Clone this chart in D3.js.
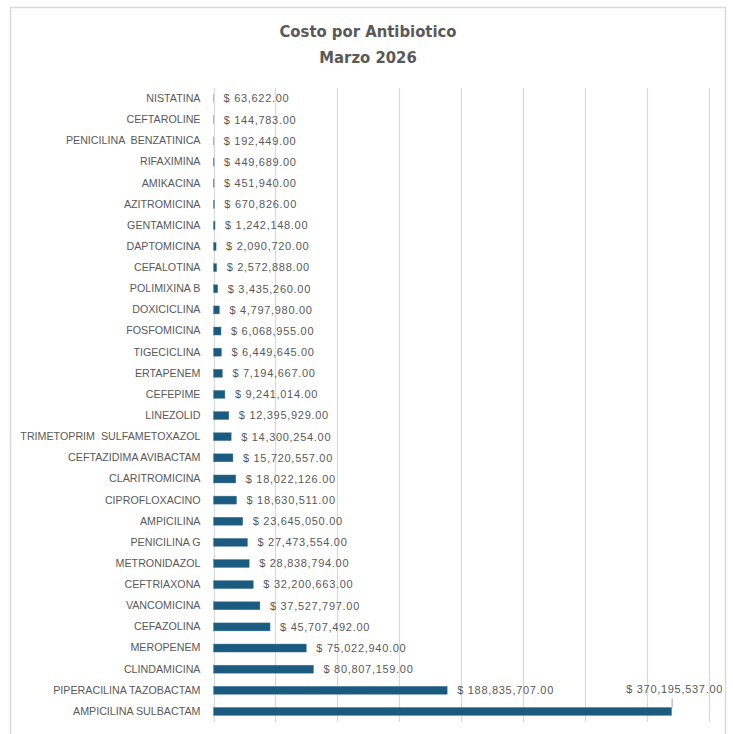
<!DOCTYPE html>
<html>
<head>
<meta charset="utf-8">
<script src="https://cdn.jsdelivr.net/npm/d3@7/dist/d3.min.js"></script>
<style>
  html, body { margin: 0; padding: 0; background: #ffffff; }
  svg { display: block; }
</style>
</head>
<body>
<svg id="chart" width="733" height="734"></svg>
<script>
// Antibiotic names, ordered from lowest to highest cost (top to bottom)
const antibiotics = [
  "NISTATINA", "CEFTAROLINE", "PENICILINA  BENZATINICA", "RIFAXIMINA", "AMIKACINA",
  "AZITROMICINA", "GENTAMICINA", "DAPTOMICINA", "CEFALOTINA", "POLIMIXINA B",
  "DOXICICLINA", "FOSFOMICINA", "TIGECICLINA", "ERTAPENEM", "CEFEPIME",
  "LINEZOLID", "TRIMETOPRIM  SULFAMETOXAZOL", "CEFTAZIDIMA AVIBACTAM", "CLARITROMICINA", "CIPROFLOXACINO",
  "AMPICILINA", "PENICILINA G", "METRONIDAZOL", "CEFTRIAXONA", "VANCOMICINA",
  "CEFAZOLINA", "MEROPENEM", "CLINDAMICINA", "PIPERACILINA TAZOBACTAM", "AMPICILINA SULBACTAM"
];

// Monthly cost per antibiotic (MXN)
const costs = [
  63622, 144783, 192449, 449689, 451940,
  670826, 1242148, 2090720, 2572888, 3435260,
  4797980, 6068955, 6449645, 7194667, 9241014,
  12395929, 14300254, 15720557, 18022126, 18630511,
  23645050, 27473554, 28838794, 32200663, 37527797,
  45707492, 75022940, 80807159, 188835707, 370195537
];

// Value axis gridline positions
const gridTicks = [0, 50e6, 100e6, 150e6, 200e6, 250e6, 300e6, 350e6, 400e6];

const titleLines = ["Costo por Antibiotico", "Marzo 2026"];

const data = antibiotics.map((name, i) => ({ name, value: costs[i] }));

const svg = d3.select("#chart");
const textColor = "#595959";
const barColor = "#1b5b7f";

// Outer chart frame
svg.append("rect")
  .attr("x", 10.5).attr("y", 7.5)
  .attr("width", 715).attr("height", 740)
  .attr("fill", "#ffffff")
  .attr("stroke", "#d9d9d9")
  .attr("stroke-width", 1.5);

// Title
svg.append("g")
  .selectAll("text")
  .data(titleLines)
  .join("text")
  .attr("x", 368)
  .attr("y", (d, i) => 37 + i * 26)
  .attr("text-anchor", "middle")
  .attr("font-family", "'DejaVu Sans Condensed', 'Liberation Sans Narrow', sans-serif")
  .attr("font-weight", "bold")
  .attr("font-size", 16.5)
  .attr("fill", textColor)
  .text(d => d);

const x = d3.scaleLinear().domain([0, 400e6]).range([213.5, 708.5]);
const y = d3.scaleBand().domain(antibiotics).range([88, 722]).paddingInner(0.62).paddingOuter(0.31);

// Vertical gridlines
svg.append("g")
  .selectAll("line")
  .data(gridTicks)
  .join("line")
  .attr("x1", d => Math.round(x(d)) + 0.5)
  .attr("x2", d => Math.round(x(d)) + 0.5)
  .attr("y1", 88).attr("y2", 722)
  .attr("stroke", "#d9d9d9")
  .attr("stroke-width", 1.2);

// Category axis (labels only)
const yAxis = svg.append("g")
  .attr("transform", `translate(${x(0)},0)`)
  .call(d3.axisLeft(y).tickSize(0).tickPadding(13));
yAxis.select(".domain").remove();
yAxis.selectAll("text")
  .attr("font-family", "'Liberation Sans', Arial, sans-serif")
  .attr("font-size", 10.7)
  .attr("fill", textColor)
  .style("white-space", "pre");

// Bars
svg.append("g")
  .selectAll("rect")
  .data(data)
  .join("rect")
  .attr("x", x(0))
  .attr("y", d => y(d.name))
  .attr("width", d => Math.max(0, x(d.value) - x(0)))
  .attr("height", y.bandwidth())
  .attr("fill", barColor)
  .attr("stroke", "#4f86a6")
  .attr("stroke-width", 0.4);

const fmt = v => "$ " + d3.format(",.2f")(v);
const maxValue = d3.max(costs);

// Value labels to the right of each bar
svg.append("g")
  .selectAll("text")
  .data(data.filter(d => d.value !== maxValue))
  .join("text")
  .attr("x", d => x(d.value) + 10)
  .attr("y", d => y(d.name) + y.bandwidth() / 2)
  .attr("dy", "0.35em")
  .attr("font-family", "'Liberation Sans', Arial, sans-serif")
  .attr("font-size", 11)
  .attr("letter-spacing", 0.7)
  .attr("fill", textColor)
  .text(d => fmt(d.value));

// Largest value: label lifted above its bar with a short leader line
const largest = data.find(d => d.value === maxValue);
const lx = x(largest.value);
const ly = y(largest.name);
svg.append("line")
  .attr("x1", lx + 0.5).attr("x2", lx + 0.5)
  .attr("y1", ly).attr("y2", ly - 9)
  .attr("stroke", "#a6a6a6")
  .attr("stroke-width", 1);
svg.append("text")
  .attr("x", lx + 3)
  .attr("y", ly - 14)
  .attr("text-anchor", "middle")
  .attr("font-family", "'Liberation Sans', Arial, sans-serif")
  .attr("font-size", 11)
  .attr("letter-spacing", 0.7)
  .attr("fill", textColor)
  .text(fmt(largest.value));
</script>
</body>
</html>
